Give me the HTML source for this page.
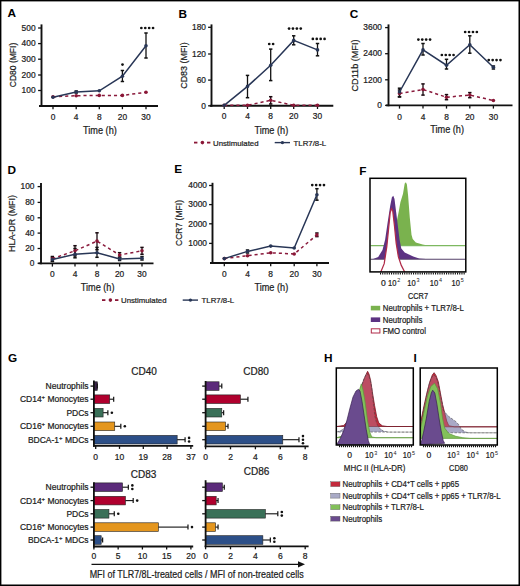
<!DOCTYPE html><html><head><meta charset="utf-8"><style>html,body{margin:0;padding:0;background:#fff;overflow:hidden}#wrap{position:relative;width:520px;height:586px;overflow:hidden;background:#fff}svg{display:block;position:absolute;left:0;top:0}text{font-family:"Liberation Sans",sans-serif}</style></head><body><div id="wrap">
<svg id="fig" width="520" height="586" viewBox="0 0 520 586">
<rect x="0" y="0" width="520" height="586" fill="#fff"/>
<text x="7.6" y="16.6" font-size="11.8" text-anchor="start" font-weight="bold" fill="#000"  >A</text>
<line x1="41.5" y1="24.4" x2="41.5" y2="106.9" stroke="#111" stroke-width="1.9" />
<line x1="39" y1="106" x2="158" y2="106" stroke="#111" stroke-width="1.9" />
<line x1="38.1" y1="90.5" x2="41.5" y2="90.5" stroke="#111" stroke-width="1.3" />
<text x="35.6" y="93.25" font-size="8.4" text-anchor="end" font-weight="normal" fill="#1c1c1c" stroke="#1c1c1c" stroke-width="0.22" >100</text>
<line x1="38.1" y1="75" x2="41.5" y2="75" stroke="#111" stroke-width="1.3" />
<text x="35.6" y="77.75" font-size="8.4" text-anchor="end" font-weight="normal" fill="#1c1c1c" stroke="#1c1c1c" stroke-width="0.22" >200</text>
<line x1="38.1" y1="59.2" x2="41.5" y2="59.2" stroke="#111" stroke-width="1.3" />
<text x="35.6" y="61.95" font-size="8.4" text-anchor="end" font-weight="normal" fill="#1c1c1c" stroke="#1c1c1c" stroke-width="0.22" >300</text>
<line x1="38.1" y1="43.6" x2="41.5" y2="43.6" stroke="#111" stroke-width="1.3" />
<text x="35.6" y="46.35" font-size="8.4" text-anchor="end" font-weight="normal" fill="#1c1c1c" stroke="#1c1c1c" stroke-width="0.22" >400</text>
<line x1="38.1" y1="28" x2="41.5" y2="28" stroke="#111" stroke-width="1.3" />
<text x="35.6" y="30.75" font-size="8.4" text-anchor="end" font-weight="normal" fill="#1c1c1c" stroke="#1c1c1c" stroke-width="0.22" >500</text>
<line x1="53" y1="106" x2="53" y2="109.2" stroke="#111" stroke-width="1.3" />
<text x="53" y="120.2" font-size="8.4" text-anchor="middle" font-weight="normal" fill="#1c1c1c" stroke="#1c1c1c" stroke-width="0.22" >0</text>
<line x1="76.2" y1="106" x2="76.2" y2="109.2" stroke="#111" stroke-width="1.3" />
<text x="76.2" y="120.2" font-size="8.4" text-anchor="middle" font-weight="normal" fill="#1c1c1c" stroke="#1c1c1c" stroke-width="0.22" >4</text>
<line x1="99.3" y1="106" x2="99.3" y2="109.2" stroke="#111" stroke-width="1.3" />
<text x="99.3" y="120.2" font-size="8.4" text-anchor="middle" font-weight="normal" fill="#1c1c1c" stroke="#1c1c1c" stroke-width="0.22" >8</text>
<line x1="122.4" y1="106" x2="122.4" y2="109.2" stroke="#111" stroke-width="1.3" />
<text x="122.4" y="120.2" font-size="8.4" text-anchor="middle" font-weight="normal" fill="#1c1c1c" stroke="#1c1c1c" stroke-width="0.22" >20</text>
<line x1="146" y1="106" x2="146" y2="109.2" stroke="#111" stroke-width="1.3" />
<text x="146" y="120.2" font-size="8.4" text-anchor="middle" font-weight="normal" fill="#1c1c1c" stroke="#1c1c1c" stroke-width="0.22" >30</text>
<text x="0" y="0" transform="translate(99.89999999999999,134.0) scale(0.9,1)" font-size="10.2" text-anchor="middle" font-weight="normal" fill="#1c1c1c" stroke="#1c1c1c" stroke-width="0.22" >Time (h)</text>
<text x="0" y="0" transform="translate(16.4,65) rotate(-90) scale(0.89,1)" font-size="9.6" text-anchor="middle" font-weight="normal" fill="#1c1c1c" stroke="#1c1c1c" stroke-width="0.22" >CD80 (MFI)</text>
<line x1="76.2" y1="91" x2="76.2" y2="93" stroke="#111" stroke-width="1.3" />
<line x1="74.5" y1="91" x2="77.9" y2="91" stroke="#111" stroke-width="1.5" />
<line x1="74.5" y1="93" x2="77.9" y2="93" stroke="#111" stroke-width="1.5" />
<line x1="122.4" y1="70.5" x2="122.4" y2="81.5" stroke="#111" stroke-width="1.3" />
<line x1="120.7" y1="70.5" x2="124.10000000000001" y2="70.5" stroke="#111" stroke-width="1.5" />
<line x1="120.7" y1="81.5" x2="124.10000000000001" y2="81.5" stroke="#111" stroke-width="1.5" />
<line x1="146" y1="33" x2="146" y2="58" stroke="#111" stroke-width="1.3" />
<line x1="144.3" y1="33" x2="147.7" y2="33" stroke="#111" stroke-width="1.5" />
<line x1="144.3" y1="58" x2="147.7" y2="58" stroke="#111" stroke-width="1.5" />
<polyline points="53,96.8 76.2,95.7 99.3,95.4 122.4,95.4 146,92.3" fill="none" stroke="#8a1a3c" stroke-width="1.5" stroke-dasharray="3.1,3.0"/>
<polyline points="53,97.3 76.2,92 99.3,90.8 122.4,76.2 146,45.8" fill="none" stroke="#283656" stroke-width="1.5"/>
<circle cx="53" cy="96.8" r="1.8" fill="#8a1636"/>
<circle cx="76.2" cy="95.7" r="1.8" fill="#8a1636"/>
<circle cx="99.3" cy="95.4" r="1.8" fill="#8a1636"/>
<circle cx="122.4" cy="95.4" r="1.8" fill="#8a1636"/>
<circle cx="146" cy="92.3" r="1.8" fill="#8a1636"/>
<circle cx="53" cy="97.3" r="1.8" fill="#283656"/>
<circle cx="76.2" cy="92" r="1.8" fill="#283656"/>
<circle cx="99.3" cy="90.8" r="1.8" fill="#283656"/>
<circle cx="122.4" cy="76.2" r="1.8" fill="#283656"/>
<circle cx="146" cy="45.8" r="1.8" fill="#283656"/>
<circle cx="122.50" cy="64.6" r="1.35" fill="#111"/>
<circle cx="141.36" cy="28" r="1.35" fill="#111"/>
<circle cx="145.26" cy="28" r="1.35" fill="#111"/>
<circle cx="149.16" cy="28" r="1.35" fill="#111"/>
<circle cx="153.06" cy="28" r="1.35" fill="#111"/>
<text x="178.4" y="17.7" font-size="11.8" text-anchor="start" font-weight="bold" fill="#000"  >B</text>
<line x1="211.5" y1="24.4" x2="211.5" y2="106.7" stroke="#111" stroke-width="1.9" />
<line x1="209.8" y1="105.8" x2="333.3" y2="105.8" stroke="#111" stroke-width="1.9" />
<line x1="208.1" y1="105.8" x2="211.5" y2="105.8" stroke="#111" stroke-width="1.3" />
<text x="206" y="108.55" font-size="8.4" text-anchor="end" font-weight="normal" fill="#1c1c1c" stroke="#1c1c1c" stroke-width="0.22" >0</text>
<line x1="208.1" y1="80.1" x2="211.5" y2="80.1" stroke="#111" stroke-width="1.3" />
<text x="206" y="82.85" font-size="8.4" text-anchor="end" font-weight="normal" fill="#1c1c1c" stroke="#1c1c1c" stroke-width="0.22" >60</text>
<line x1="208.1" y1="54" x2="211.5" y2="54" stroke="#111" stroke-width="1.3" />
<text x="206" y="56.75" font-size="8.4" text-anchor="end" font-weight="normal" fill="#1c1c1c" stroke="#1c1c1c" stroke-width="0.22" >120</text>
<line x1="208.1" y1="27.3" x2="211.5" y2="27.3" stroke="#111" stroke-width="1.3" />
<text x="206" y="30.05" font-size="8.4" text-anchor="end" font-weight="normal" fill="#1c1c1c" stroke="#1c1c1c" stroke-width="0.22" >180</text>
<line x1="224.2" y1="105.8" x2="224.2" y2="109.0" stroke="#111" stroke-width="1.3" />
<text x="224.2" y="119.39999999999999" font-size="8.4" text-anchor="middle" font-weight="normal" fill="#1c1c1c" stroke="#1c1c1c" stroke-width="0.22" >0</text>
<line x1="247.5" y1="105.8" x2="247.5" y2="109.0" stroke="#111" stroke-width="1.3" />
<text x="247.5" y="119.39999999999999" font-size="8.4" text-anchor="middle" font-weight="normal" fill="#1c1c1c" stroke="#1c1c1c" stroke-width="0.22" >4</text>
<line x1="270.7" y1="105.8" x2="270.7" y2="109.0" stroke="#111" stroke-width="1.3" />
<text x="270.7" y="119.39999999999999" font-size="8.4" text-anchor="middle" font-weight="normal" fill="#1c1c1c" stroke="#1c1c1c" stroke-width="0.22" >8</text>
<line x1="293.7" y1="105.8" x2="293.7" y2="109.0" stroke="#111" stroke-width="1.3" />
<text x="293.7" y="119.39999999999999" font-size="8.4" text-anchor="middle" font-weight="normal" fill="#1c1c1c" stroke="#1c1c1c" stroke-width="0.22" >20</text>
<line x1="317.5" y1="105.8" x2="317.5" y2="109.0" stroke="#111" stroke-width="1.3" />
<text x="317.5" y="119.39999999999999" font-size="8.4" text-anchor="middle" font-weight="normal" fill="#1c1c1c" stroke="#1c1c1c" stroke-width="0.22" >30</text>
<text x="0" y="0" transform="translate(271.3,133.8) scale(0.9,1)" font-size="10.2" text-anchor="middle" font-weight="normal" fill="#1c1c1c" stroke="#1c1c1c" stroke-width="0.22" >Time (h)</text>
<text x="0" y="0" transform="translate(187.4,65.5) rotate(-90) scale(0.93,1)" font-size="9.6" text-anchor="middle" font-weight="normal" fill="#1c1c1c" stroke="#1c1c1c" stroke-width="0.22" >CD83 (MFI)</text>
<line x1="270.7" y1="96.7" x2="270.7" y2="104" stroke="#1a0a10" stroke-width="1.3" />
<line x1="269.0" y1="96.7" x2="272.4" y2="96.7" stroke="#1a0a10" stroke-width="1.5" />
<line x1="269.0" y1="104" x2="272.4" y2="104" stroke="#1a0a10" stroke-width="1.5" />
<line x1="247.5" y1="75.4" x2="247.5" y2="97.7" stroke="#111" stroke-width="1.3" />
<line x1="245.8" y1="75.4" x2="249.2" y2="75.4" stroke="#111" stroke-width="1.5" />
<line x1="245.8" y1="97.7" x2="249.2" y2="97.7" stroke="#111" stroke-width="1.5" />
<line x1="270.7" y1="49.1" x2="270.7" y2="80.6" stroke="#111" stroke-width="1.3" />
<line x1="269.0" y1="49.1" x2="272.4" y2="49.1" stroke="#111" stroke-width="1.5" />
<line x1="269.0" y1="80.6" x2="272.4" y2="80.6" stroke="#111" stroke-width="1.5" />
<line x1="293.7" y1="35.8" x2="293.7" y2="44.8" stroke="#111" stroke-width="1.3" />
<line x1="292.0" y1="35.8" x2="295.4" y2="35.8" stroke="#111" stroke-width="1.5" />
<line x1="292.0" y1="44.8" x2="295.4" y2="44.8" stroke="#111" stroke-width="1.5" />
<line x1="317.5" y1="43.5" x2="317.5" y2="55.8" stroke="#111" stroke-width="1.3" />
<line x1="315.8" y1="43.5" x2="319.2" y2="43.5" stroke="#111" stroke-width="1.5" />
<line x1="315.8" y1="55.8" x2="319.2" y2="55.8" stroke="#111" stroke-width="1.5" />
<polyline points="224.2,105.3 247.5,105.3 270.7,100.3 293.7,105.3 317.5,105.3" fill="none" stroke="#8a1a3c" stroke-width="1.5" stroke-dasharray="3.1,3.0"/>
<polyline points="224.2,105.3 247.5,86.4 270.7,65.2 293.7,40.4 317.5,49.9" fill="none" stroke="#283656" stroke-width="1.5"/>
<circle cx="224.2" cy="105.3" r="1.8" fill="#8a1636"/>
<circle cx="247.5" cy="105.3" r="1.8" fill="#8a1636"/>
<circle cx="270.7" cy="100.3" r="1.8" fill="#8a1636"/>
<circle cx="293.7" cy="105.3" r="1.8" fill="#8a1636"/>
<circle cx="317.5" cy="105.3" r="1.8" fill="#8a1636"/>
<circle cx="224.2" cy="105.3" r="1.8" fill="#283656"/>
<circle cx="247.5" cy="86.4" r="1.8" fill="#283656"/>
<circle cx="270.7" cy="65.2" r="1.8" fill="#283656"/>
<circle cx="293.7" cy="40.4" r="1.8" fill="#283656"/>
<circle cx="317.5" cy="49.9" r="1.8" fill="#283656"/>
<circle cx="269.22" cy="44" r="1.35" fill="#111"/>
<circle cx="273.12" cy="44" r="1.35" fill="#111"/>
<circle cx="289.06" cy="28.6" r="1.35" fill="#111"/>
<circle cx="292.96" cy="28.6" r="1.35" fill="#111"/>
<circle cx="296.86" cy="28.6" r="1.35" fill="#111"/>
<circle cx="300.76" cy="28.6" r="1.35" fill="#111"/>
<circle cx="312.86" cy="38.9" r="1.35" fill="#111"/>
<circle cx="316.76" cy="38.9" r="1.35" fill="#111"/>
<circle cx="320.66" cy="38.9" r="1.35" fill="#111"/>
<circle cx="324.56" cy="38.9" r="1.35" fill="#111"/>
<text x="349.7" y="18.1" font-size="11.8" text-anchor="start" font-weight="bold" fill="#000"  >C</text>
<line x1="388.5" y1="24.4" x2="388.5" y2="106.30000000000001" stroke="#111" stroke-width="1.9" />
<line x1="386" y1="105.4" x2="512.5" y2="105.4" stroke="#111" stroke-width="1.9" />
<line x1="385.1" y1="105.4" x2="388.5" y2="105.4" stroke="#111" stroke-width="1.3" />
<text x="382" y="108.15" font-size="8.4" text-anchor="end" font-weight="normal" fill="#1c1c1c" stroke="#1c1c1c" stroke-width="0.22" >0</text>
<line x1="385.1" y1="79.8" x2="388.5" y2="79.8" stroke="#111" stroke-width="1.3" />
<text x="382" y="82.55" font-size="8.4" text-anchor="end" font-weight="normal" fill="#1c1c1c" stroke="#1c1c1c" stroke-width="0.22" >1200</text>
<line x1="385.1" y1="53.7" x2="388.5" y2="53.7" stroke="#111" stroke-width="1.3" />
<text x="382" y="56.45" font-size="8.4" text-anchor="end" font-weight="normal" fill="#1c1c1c" stroke="#1c1c1c" stroke-width="0.22" >2400</text>
<line x1="385.1" y1="27.6" x2="388.5" y2="27.6" stroke="#111" stroke-width="1.3" />
<text x="382" y="30.35" font-size="8.4" text-anchor="end" font-weight="normal" fill="#1c1c1c" stroke="#1c1c1c" stroke-width="0.22" >3600</text>
<line x1="399.5" y1="105.4" x2="399.5" y2="108.60000000000001" stroke="#111" stroke-width="1.3" />
<text x="399.5" y="119.60000000000001" font-size="8.4" text-anchor="middle" font-weight="normal" fill="#1c1c1c" stroke="#1c1c1c" stroke-width="0.22" >0</text>
<line x1="423" y1="105.4" x2="423" y2="108.60000000000001" stroke="#111" stroke-width="1.3" />
<text x="423" y="119.60000000000001" font-size="8.4" text-anchor="middle" font-weight="normal" fill="#1c1c1c" stroke="#1c1c1c" stroke-width="0.22" >4</text>
<line x1="446.5" y1="105.4" x2="446.5" y2="108.60000000000001" stroke="#111" stroke-width="1.3" />
<text x="446.5" y="119.60000000000001" font-size="8.4" text-anchor="middle" font-weight="normal" fill="#1c1c1c" stroke="#1c1c1c" stroke-width="0.22" >8</text>
<line x1="469.8" y1="105.4" x2="469.8" y2="108.60000000000001" stroke="#111" stroke-width="1.3" />
<text x="469.8" y="119.60000000000001" font-size="8.4" text-anchor="middle" font-weight="normal" fill="#1c1c1c" stroke="#1c1c1c" stroke-width="0.22" >20</text>
<line x1="493.4" y1="105.4" x2="493.4" y2="108.60000000000001" stroke="#111" stroke-width="1.3" />
<text x="493.4" y="119.60000000000001" font-size="8.4" text-anchor="middle" font-weight="normal" fill="#1c1c1c" stroke="#1c1c1c" stroke-width="0.22" >30</text>
<text x="0" y="0" transform="translate(447.1,133.4) scale(0.9,1)" font-size="10.2" text-anchor="middle" font-weight="normal" fill="#1c1c1c" stroke="#1c1c1c" stroke-width="0.22" >Time (h)</text>
<text x="0" y="0" transform="translate(357.9,65.5) rotate(-90) scale(0.95,1)" font-size="9.6" text-anchor="middle" font-weight="normal" fill="#1c1c1c" stroke="#1c1c1c" stroke-width="0.22" >CD11b (MFI)</text>
<line x1="399.5" y1="90" x2="399.5" y2="97" stroke="#1a0a10" stroke-width="1.3" />
<line x1="397.8" y1="90" x2="401.2" y2="90" stroke="#1a0a10" stroke-width="1.5" />
<line x1="397.8" y1="97" x2="401.2" y2="97" stroke="#1a0a10" stroke-width="1.5" />
<line x1="423" y1="83.9" x2="423" y2="95.1" stroke="#1a0a10" stroke-width="1.3" />
<line x1="421.3" y1="83.9" x2="424.7" y2="83.9" stroke="#1a0a10" stroke-width="1.5" />
<line x1="421.3" y1="95.1" x2="424.7" y2="95.1" stroke="#1a0a10" stroke-width="1.5" />
<line x1="446.5" y1="94.6" x2="446.5" y2="99.7" stroke="#1a0a10" stroke-width="1.3" />
<line x1="444.8" y1="94.6" x2="448.2" y2="94.6" stroke="#1a0a10" stroke-width="1.5" />
<line x1="444.8" y1="99.7" x2="448.2" y2="99.7" stroke="#1a0a10" stroke-width="1.5" />
<line x1="469.8" y1="92.6" x2="469.8" y2="97.7" stroke="#1a0a10" stroke-width="1.3" />
<line x1="468.1" y1="92.6" x2="471.5" y2="92.6" stroke="#1a0a10" stroke-width="1.5" />
<line x1="468.1" y1="97.7" x2="471.5" y2="97.7" stroke="#1a0a10" stroke-width="1.5" />
<line x1="399.5" y1="88.2" x2="399.5" y2="96.7" stroke="#111" stroke-width="1.3" />
<line x1="397.8" y1="88.2" x2="401.2" y2="88.2" stroke="#111" stroke-width="1.5" />
<line x1="397.8" y1="96.7" x2="401.2" y2="96.7" stroke="#111" stroke-width="1.5" />
<line x1="423" y1="43.5" x2="423" y2="55" stroke="#111" stroke-width="1.3" />
<line x1="421.3" y1="43.5" x2="424.7" y2="43.5" stroke="#111" stroke-width="1.5" />
<line x1="421.3" y1="55" x2="424.7" y2="55" stroke="#111" stroke-width="1.5" />
<line x1="446.5" y1="59.3" x2="446.5" y2="69" stroke="#111" stroke-width="1.3" />
<line x1="444.8" y1="59.3" x2="448.2" y2="59.3" stroke="#111" stroke-width="1.5" />
<line x1="444.8" y1="69" x2="448.2" y2="69" stroke="#111" stroke-width="1.5" />
<line x1="469.8" y1="35.8" x2="469.8" y2="53.2" stroke="#111" stroke-width="1.3" />
<line x1="468.1" y1="35.8" x2="471.5" y2="35.8" stroke="#111" stroke-width="1.5" />
<line x1="468.1" y1="53.2" x2="471.5" y2="53.2" stroke="#111" stroke-width="1.5" />
<line x1="493.4" y1="66" x2="493.4" y2="69" stroke="#111" stroke-width="1.3" />
<line x1="491.7" y1="66" x2="495.09999999999997" y2="66" stroke="#111" stroke-width="1.5" />
<line x1="491.7" y1="69" x2="495.09999999999997" y2="69" stroke="#111" stroke-width="1.5" />
<polyline points="399.5,93.4 423,89.5 446.5,97.2 469.8,95.1 493.4,100.5" fill="none" stroke="#8a1a3c" stroke-width="1.5" stroke-dasharray="3.1,3.0"/>
<polyline points="399.5,92 423,49.9 446.5,65.2 469.8,44.8 493.4,67.3" fill="none" stroke="#283656" stroke-width="1.5"/>
<circle cx="399.5" cy="93.4" r="1.8" fill="#8a1636"/>
<circle cx="423" cy="89.5" r="1.8" fill="#8a1636"/>
<circle cx="446.5" cy="97.2" r="1.8" fill="#8a1636"/>
<circle cx="469.8" cy="95.1" r="1.8" fill="#8a1636"/>
<circle cx="493.4" cy="100.5" r="1.8" fill="#8a1636"/>
<circle cx="399.5" cy="92" r="1.8" fill="#283656"/>
<circle cx="423" cy="49.9" r="1.8" fill="#283656"/>
<circle cx="446.5" cy="65.2" r="1.8" fill="#283656"/>
<circle cx="469.8" cy="44.8" r="1.8" fill="#283656"/>
<circle cx="493.4" cy="67.3" r="1.8" fill="#283656"/>
<circle cx="418.36" cy="39.6" r="1.35" fill="#111"/>
<circle cx="422.26" cy="39.6" r="1.35" fill="#111"/>
<circle cx="426.16" cy="39.6" r="1.35" fill="#111"/>
<circle cx="430.06" cy="39.6" r="1.35" fill="#111"/>
<circle cx="441.86" cy="55" r="1.35" fill="#111"/>
<circle cx="445.76" cy="55" r="1.35" fill="#111"/>
<circle cx="449.66" cy="55" r="1.35" fill="#111"/>
<circle cx="453.56" cy="55" r="1.35" fill="#111"/>
<circle cx="465.16" cy="32" r="1.35" fill="#111"/>
<circle cx="469.06" cy="32" r="1.35" fill="#111"/>
<circle cx="472.96" cy="32" r="1.35" fill="#111"/>
<circle cx="476.86" cy="32" r="1.35" fill="#111"/>
<circle cx="488.76" cy="60.1" r="1.35" fill="#111"/>
<circle cx="492.66" cy="60.1" r="1.35" fill="#111"/>
<circle cx="496.56" cy="60.1" r="1.35" fill="#111"/>
<circle cx="500.46" cy="60.1" r="1.35" fill="#111"/>
<line x1="194" y1="142.6" x2="197.4" y2="142.6" stroke="#8a1636" stroke-width="1.8" />
<circle cx="202.4" cy="142.6" r="1.8" fill="#8a1636"/>
<line x1="207" y1="142.6" x2="210.4" y2="142.6" stroke="#8a1636" stroke-width="1.8" />
<text x="213" y="145.5" font-size="7.8" text-anchor="start" font-weight="normal" fill="#1c1c1c" stroke="#1c1c1c" stroke-width="0.22" >Unstimulated</text>
<line x1="274.7" y1="142.6" x2="290" y2="142.6" stroke="#283656" stroke-width="1.4" />
<circle cx="282.4" cy="142.6" r="1.7" fill="#283656"/>
<text x="293.6" y="145.5" font-size="7.8" text-anchor="start" font-weight="normal" fill="#1c1c1c" stroke="#1c1c1c" stroke-width="0.22" >TLR7/8-L</text>
<text x="7.5" y="174.2" font-size="11.8" text-anchor="start" font-weight="bold" fill="#000"  >D</text>
<line x1="41" y1="183" x2="41" y2="264.29999999999995" stroke="#111" stroke-width="1.9" />
<line x1="38.5" y1="263.4" x2="153.5" y2="263.4" stroke="#111" stroke-width="1.9" />
<line x1="37.6" y1="263.3" x2="41" y2="263.3" stroke="#111" stroke-width="1.3" />
<text x="34.5" y="266.05" font-size="8.4" text-anchor="end" font-weight="normal" fill="#1c1c1c" stroke="#1c1c1c" stroke-width="0.22" >0</text>
<line x1="37.6" y1="248.5" x2="41" y2="248.5" stroke="#111" stroke-width="1.3" />
<text x="34.5" y="251.25" font-size="8.4" text-anchor="end" font-weight="normal" fill="#1c1c1c" stroke="#1c1c1c" stroke-width="0.22" >20</text>
<line x1="37.6" y1="233.1" x2="41" y2="233.1" stroke="#111" stroke-width="1.3" />
<text x="34.5" y="235.85" font-size="8.4" text-anchor="end" font-weight="normal" fill="#1c1c1c" stroke="#1c1c1c" stroke-width="0.22" >40</text>
<line x1="37.6" y1="217.8" x2="41" y2="217.8" stroke="#111" stroke-width="1.3" />
<text x="34.5" y="220.55" font-size="8.4" text-anchor="end" font-weight="normal" fill="#1c1c1c" stroke="#1c1c1c" stroke-width="0.22" >60</text>
<line x1="37.6" y1="202.4" x2="41" y2="202.4" stroke="#111" stroke-width="1.3" />
<text x="34.5" y="205.15" font-size="8.4" text-anchor="end" font-weight="normal" fill="#1c1c1c" stroke="#1c1c1c" stroke-width="0.22" >80</text>
<line x1="37.6" y1="186.6" x2="41" y2="186.6" stroke="#111" stroke-width="1.3" />
<text x="34.5" y="189.35" font-size="8.4" text-anchor="end" font-weight="normal" fill="#1c1c1c" stroke="#1c1c1c" stroke-width="0.22" >100</text>
<line x1="52.4" y1="263.4" x2="52.4" y2="266.59999999999997" stroke="#111" stroke-width="1.3" />
<text x="52.4" y="276.79999999999995" font-size="8.4" text-anchor="middle" font-weight="normal" fill="#1c1c1c" stroke="#1c1c1c" stroke-width="0.22" >0</text>
<line x1="75" y1="263.4" x2="75" y2="266.59999999999997" stroke="#111" stroke-width="1.3" />
<text x="75" y="276.79999999999995" font-size="8.4" text-anchor="middle" font-weight="normal" fill="#1c1c1c" stroke="#1c1c1c" stroke-width="0.22" >4</text>
<line x1="97" y1="263.4" x2="97" y2="266.59999999999997" stroke="#111" stroke-width="1.3" />
<text x="97" y="276.79999999999995" font-size="8.4" text-anchor="middle" font-weight="normal" fill="#1c1c1c" stroke="#1c1c1c" stroke-width="0.22" >8</text>
<line x1="119.6" y1="263.4" x2="119.6" y2="266.59999999999997" stroke="#111" stroke-width="1.3" />
<text x="119.6" y="276.79999999999995" font-size="8.4" text-anchor="middle" font-weight="normal" fill="#1c1c1c" stroke="#1c1c1c" stroke-width="0.22" >20</text>
<line x1="142" y1="263.4" x2="142" y2="266.59999999999997" stroke="#111" stroke-width="1.3" />
<text x="142" y="276.79999999999995" font-size="8.4" text-anchor="middle" font-weight="normal" fill="#1c1c1c" stroke="#1c1c1c" stroke-width="0.22" >30</text>
<text x="0" y="0" transform="translate(97.6,291.4) scale(0.9,1)" font-size="10.2" text-anchor="middle" font-weight="normal" fill="#1c1c1c" stroke="#1c1c1c" stroke-width="0.22" >Time (h)</text>
<text x="0" y="0" transform="translate(15.3,223.5) rotate(-90) scale(0.93,1)" font-size="9.6" text-anchor="middle" font-weight="normal" fill="#1c1c1c" stroke="#1c1c1c" stroke-width="0.22" >HLA-DR (MFI)</text>
<line x1="52.4" y1="256.5" x2="52.4" y2="261" stroke="#1a0a10" stroke-width="1.3" />
<line x1="50.699999999999996" y1="256.5" x2="54.1" y2="256.5" stroke="#1a0a10" stroke-width="1.5" />
<line x1="50.699999999999996" y1="261" x2="54.1" y2="261" stroke="#1a0a10" stroke-width="1.5" />
<line x1="75" y1="245.7" x2="75" y2="255.9" stroke="#1a0a10" stroke-width="1.3" />
<line x1="73.3" y1="245.7" x2="76.7" y2="245.7" stroke="#1a0a10" stroke-width="1.5" />
<line x1="73.3" y1="255.9" x2="76.7" y2="255.9" stroke="#1a0a10" stroke-width="1.5" />
<line x1="97" y1="232.8" x2="97" y2="249.7" stroke="#1a0a10" stroke-width="1.3" />
<line x1="95.3" y1="232.8" x2="98.7" y2="232.8" stroke="#1a0a10" stroke-width="1.5" />
<line x1="95.3" y1="249.7" x2="98.7" y2="249.7" stroke="#1a0a10" stroke-width="1.5" />
<line x1="119.6" y1="252.7" x2="119.6" y2="257.3" stroke="#1a0a10" stroke-width="1.3" />
<line x1="117.89999999999999" y1="252.7" x2="121.3" y2="252.7" stroke="#1a0a10" stroke-width="1.5" />
<line x1="117.89999999999999" y1="257.3" x2="121.3" y2="257.3" stroke="#1a0a10" stroke-width="1.5" />
<line x1="142" y1="247.4" x2="142" y2="254.3" stroke="#1a0a10" stroke-width="1.3" />
<line x1="140.3" y1="247.4" x2="143.7" y2="247.4" stroke="#1a0a10" stroke-width="1.5" />
<line x1="140.3" y1="254.3" x2="143.7" y2="254.3" stroke="#1a0a10" stroke-width="1.5" />
<line x1="52.4" y1="257.5" x2="52.4" y2="261.5" stroke="#111" stroke-width="1.3" />
<line x1="50.699999999999996" y1="257.5" x2="54.1" y2="257.5" stroke="#111" stroke-width="1.5" />
<line x1="50.699999999999996" y1="261.5" x2="54.1" y2="261.5" stroke="#111" stroke-width="1.5" />
<line x1="75" y1="248.5" x2="75" y2="257.8" stroke="#111" stroke-width="1.3" />
<line x1="73.3" y1="248.5" x2="76.7" y2="248.5" stroke="#111" stroke-width="1.5" />
<line x1="73.3" y1="257.8" x2="76.7" y2="257.8" stroke="#111" stroke-width="1.5" />
<line x1="97" y1="247.4" x2="97" y2="257.3" stroke="#111" stroke-width="1.3" />
<line x1="95.3" y1="247.4" x2="98.7" y2="247.4" stroke="#111" stroke-width="1.5" />
<line x1="95.3" y1="257.3" x2="98.7" y2="257.3" stroke="#111" stroke-width="1.5" />
<line x1="119.6" y1="257.3" x2="119.6" y2="260.5" stroke="#111" stroke-width="1.3" />
<line x1="117.89999999999999" y1="257.3" x2="121.3" y2="257.3" stroke="#111" stroke-width="1.5" />
<line x1="117.89999999999999" y1="260.5" x2="121.3" y2="260.5" stroke="#111" stroke-width="1.5" />
<line x1="142" y1="256.6" x2="142" y2="260" stroke="#111" stroke-width="1.3" />
<line x1="140.3" y1="256.6" x2="143.7" y2="256.6" stroke="#111" stroke-width="1.5" />
<line x1="140.3" y1="260" x2="143.7" y2="260" stroke="#111" stroke-width="1.5" />
<polyline points="52.4,258.7 75,250.8 97,241.1 119.6,255 142,250.8" fill="none" stroke="#8a1a3c" stroke-width="1.5" stroke-dasharray="3.1,3.0"/>
<polyline points="52.4,259.5 75,254.3 97,252.7 119.6,258.9 142,258.2" fill="none" stroke="#283656" stroke-width="1.5"/>
<circle cx="52.4" cy="258.7" r="1.8" fill="#8a1636"/>
<circle cx="75" cy="250.8" r="1.8" fill="#8a1636"/>
<circle cx="97" cy="241.1" r="1.8" fill="#8a1636"/>
<circle cx="119.6" cy="255" r="1.8" fill="#8a1636"/>
<circle cx="142" cy="250.8" r="1.8" fill="#8a1636"/>
<circle cx="52.4" cy="259.5" r="1.8" fill="#283656"/>
<circle cx="75" cy="254.3" r="1.8" fill="#283656"/>
<circle cx="97" cy="252.7" r="1.8" fill="#283656"/>
<circle cx="119.6" cy="258.9" r="1.8" fill="#283656"/>
<circle cx="142" cy="258.2" r="1.8" fill="#283656"/>
<text x="174.2" y="173.4" font-size="11.8" text-anchor="start" font-weight="bold" fill="#000"  >E</text>
<line x1="212.5" y1="182.8" x2="212.5" y2="263.9" stroke="#111" stroke-width="1.9" />
<line x1="210" y1="263" x2="329" y2="263" stroke="#111" stroke-width="1.9" />
<line x1="209.1" y1="243.4" x2="212.5" y2="243.4" stroke="#111" stroke-width="1.3" />
<text x="207" y="246.15" font-size="8.4" text-anchor="end" font-weight="normal" fill="#1c1c1c" stroke="#1c1c1c" stroke-width="0.22" >1000</text>
<line x1="209.1" y1="223.8" x2="212.5" y2="223.8" stroke="#111" stroke-width="1.3" />
<text x="207" y="226.55" font-size="8.4" text-anchor="end" font-weight="normal" fill="#1c1c1c" stroke="#1c1c1c" stroke-width="0.22" >2000</text>
<line x1="209.1" y1="204.6" x2="212.5" y2="204.6" stroke="#111" stroke-width="1.3" />
<text x="207" y="207.35" font-size="8.4" text-anchor="end" font-weight="normal" fill="#1c1c1c" stroke="#1c1c1c" stroke-width="0.22" >3000</text>
<line x1="209.1" y1="185.5" x2="212.5" y2="185.5" stroke="#111" stroke-width="1.3" />
<text x="207" y="188.25" font-size="8.4" text-anchor="end" font-weight="normal" fill="#1c1c1c" stroke="#1c1c1c" stroke-width="0.22" >4000</text>
<line x1="224.3" y1="263" x2="224.3" y2="266.2" stroke="#111" stroke-width="1.3" />
<text x="224.3" y="277.2" font-size="8.4" text-anchor="middle" font-weight="normal" fill="#1c1c1c" stroke="#1c1c1c" stroke-width="0.22" >0</text>
<line x1="247.5" y1="263" x2="247.5" y2="266.2" stroke="#111" stroke-width="1.3" />
<text x="247.5" y="277.2" font-size="8.4" text-anchor="middle" font-weight="normal" fill="#1c1c1c" stroke="#1c1c1c" stroke-width="0.22" >4</text>
<line x1="270.7" y1="263" x2="270.7" y2="266.2" stroke="#111" stroke-width="1.3" />
<text x="270.7" y="277.2" font-size="8.4" text-anchor="middle" font-weight="normal" fill="#1c1c1c" stroke="#1c1c1c" stroke-width="0.22" >8</text>
<line x1="294.2" y1="263" x2="294.2" y2="266.2" stroke="#111" stroke-width="1.3" />
<text x="294.2" y="277.2" font-size="8.4" text-anchor="middle" font-weight="normal" fill="#1c1c1c" stroke="#1c1c1c" stroke-width="0.22" >20</text>
<line x1="316.9" y1="263" x2="316.9" y2="266.2" stroke="#111" stroke-width="1.3" />
<text x="316.9" y="277.2" font-size="8.4" text-anchor="middle" font-weight="normal" fill="#1c1c1c" stroke="#1c1c1c" stroke-width="0.22" >30</text>
<text x="0" y="0" transform="translate(271.3,291.0) scale(0.9,1)" font-size="10.2" text-anchor="middle" font-weight="normal" fill="#1c1c1c" stroke="#1c1c1c" stroke-width="0.22" >Time (h)</text>
<text x="0" y="0" transform="translate(182.4,223) rotate(-90) scale(0.89,1)" font-size="9.6" text-anchor="middle" font-weight="normal" fill="#1c1c1c" stroke="#1c1c1c" stroke-width="0.22" >CCR7 (MFI)</text>
<line x1="316.9" y1="233" x2="316.9" y2="236.6" stroke="#1a0a10" stroke-width="1.3" />
<line x1="315.2" y1="233" x2="318.59999999999997" y2="233" stroke="#1a0a10" stroke-width="1.5" />
<line x1="315.2" y1="236.6" x2="318.59999999999997" y2="236.6" stroke="#1a0a10" stroke-width="1.5" />
<line x1="247.5" y1="250" x2="247.5" y2="253" stroke="#111" stroke-width="1.3" />
<line x1="245.8" y1="250" x2="249.2" y2="250" stroke="#111" stroke-width="1.5" />
<line x1="245.8" y1="253" x2="249.2" y2="253" stroke="#111" stroke-width="1.5" />
<line x1="316.9" y1="188.7" x2="316.9" y2="200.2" stroke="#111" stroke-width="1.3" />
<line x1="315.2" y1="188.7" x2="318.59999999999997" y2="188.7" stroke="#111" stroke-width="1.5" />
<line x1="315.2" y1="200.2" x2="318.59999999999997" y2="200.2" stroke="#111" stroke-width="1.5" />
<polyline points="224.3,258.6 247.5,255.7 270.7,252.8 294.2,254 316.9,234.9" fill="none" stroke="#8a1a3c" stroke-width="1.5" stroke-dasharray="3.1,3.0"/>
<polyline points="224.3,258.6 247.5,251.4 270.7,246.1 294.2,248 316.9,194.7" fill="none" stroke="#283656" stroke-width="1.5"/>
<circle cx="224.3" cy="258.6" r="1.8" fill="#8a1636"/>
<circle cx="247.5" cy="255.7" r="1.8" fill="#8a1636"/>
<circle cx="270.7" cy="252.8" r="1.8" fill="#8a1636"/>
<circle cx="294.2" cy="254" r="1.8" fill="#8a1636"/>
<circle cx="316.9" cy="234.9" r="1.8" fill="#8a1636"/>
<circle cx="224.3" cy="258.6" r="1.8" fill="#283656"/>
<circle cx="247.5" cy="251.4" r="1.8" fill="#283656"/>
<circle cx="270.7" cy="246.1" r="1.8" fill="#283656"/>
<circle cx="294.2" cy="248" r="1.8" fill="#283656"/>
<circle cx="316.9" cy="194.7" r="1.8" fill="#283656"/>
<circle cx="312.26" cy="185.1" r="1.35" fill="#111"/>
<circle cx="316.16" cy="185.1" r="1.35" fill="#111"/>
<circle cx="320.06" cy="185.1" r="1.35" fill="#111"/>
<circle cx="323.96" cy="185.1" r="1.35" fill="#111"/>
<line x1="102" y1="300.1" x2="105.4" y2="300.1" stroke="#8a1636" stroke-width="1.8" />
<circle cx="110.4" cy="300.1" r="1.8" fill="#8a1636"/>
<line x1="115" y1="300.1" x2="118.4" y2="300.1" stroke="#8a1636" stroke-width="1.8" />
<text x="121" y="303.0" font-size="7.8" text-anchor="start" font-weight="normal" fill="#1c1c1c" stroke="#1c1c1c" stroke-width="0.22" >Unstimulated</text>
<line x1="182.7" y1="300.1" x2="198" y2="300.1" stroke="#283656" stroke-width="1.4" />
<circle cx="190.4" cy="300.1" r="1.7" fill="#283656"/>
<text x="201.6" y="303.0" font-size="7.8" text-anchor="start" font-weight="normal" fill="#1c1c1c" stroke="#1c1c1c" stroke-width="0.22" >TLR7/8-L</text>
<text x="359.3" y="174.5" font-size="11.8" text-anchor="start" font-weight="bold" fill="#000"  >F</text>
<path d="M370.5,245.5 L388.0,245.5 L392.0,240.0 L396.0,225.0 L398.7,211.7 L400.4,202.3 L403.0,193.8 L404.7,183.5 L405.9,182.2 L406.9,184.4 L408.1,195.5 L409.8,217.7 L411.5,234.7 L412.7,239.0 L415.8,242.4 L422.6,244.6 L427.7,245.5 L465.0,245.5 Z" fill="#7ab24e" stroke="none" stroke-width="1" />
<line x1="370.5" y1="245.6" x2="465.5" y2="245.6" stroke="#7db860" stroke-width="1.1" />
<path d="M370.5,259.1 L373.1,259.1 L378.2,256.9 L382.5,250.1 L385.1,239.8 L387.6,222.8 L390.2,205.7 L391.9,197.2 L393.3,195.8 L394.5,198.9 L396.2,212.5 L397.9,226.2 L399.6,239.8 L401.3,248.4 L404.7,252.6 L409.0,254.4 L413.2,256.6 L419.2,258.6 L426.0,259.1 L465.0,259.1 Z" fill="#5c3282" stroke="none" stroke-width="1" />
<line x1="370.5" y1="259.2" x2="465.5" y2="259.2" stroke="#55406a" stroke-width="1.1" />
<path d="M380.8,272.0 L384.2,263.7 L386.8,246.7 L388.5,229.6 L390.2,212.5 L391.5,208.8 L392.7,210.8 L394.5,226.2 L396.2,243.3 L398.4,256.9 L401.3,265.4 L404.7,272.0" fill="#fff" stroke="#b02a48" stroke-width="1.25"/>
<rect x="370" y="178.3" width="95.8" height="93.6" fill="none" stroke="#000" stroke-width="1.5"/>
<line x1="380" y1="273.6" x2="465.5" y2="273.6" stroke="#111" stroke-width="2.0" stroke-dasharray="1.1,1.1"/>
<text x="383.3" y="285.8" font-size="8.6" text-anchor="middle" font-weight="normal" fill="#1c1c1c" stroke="#1c1c1c" stroke-width="0.22" >0</text>
<text x="0" y="0" transform="translate(392.2,285.8) scale(0.88,1)" font-size="8.6" text-anchor="middle" font-weight="normal" fill="#1c1c1c" stroke="#1c1c1c" stroke-width="0.22" >10</text>
<text x="0" y="0" transform="translate(398.7,282.2) scale(0.9,1)" font-size="6.02" text-anchor="middle" font-weight="normal" fill="#1c1c1c"  >2</text>
<text x="0" y="0" transform="translate(411.4,285.8) scale(0.88,1)" font-size="8.6" text-anchor="middle" font-weight="normal" fill="#1c1c1c" stroke="#1c1c1c" stroke-width="0.22" >10</text>
<text x="0" y="0" transform="translate(417.9,282.2) scale(0.9,1)" font-size="6.02" text-anchor="middle" font-weight="normal" fill="#1c1c1c"  >3</text>
<text x="0" y="0" transform="translate(434,285.8) scale(0.88,1)" font-size="8.6" text-anchor="middle" font-weight="normal" fill="#1c1c1c" stroke="#1c1c1c" stroke-width="0.22" >10</text>
<text x="0" y="0" transform="translate(440.5,282.2) scale(0.9,1)" font-size="6.02" text-anchor="middle" font-weight="normal" fill="#1c1c1c"  >4</text>
<text x="0" y="0" transform="translate(455.8,285.8) scale(0.88,1)" font-size="8.6" text-anchor="middle" font-weight="normal" fill="#1c1c1c" stroke="#1c1c1c" stroke-width="0.22" >10</text>
<text x="0" y="0" transform="translate(462.3,282.2) scale(0.9,1)" font-size="6.02" text-anchor="middle" font-weight="normal" fill="#1c1c1c"  >5</text>
<text x="0" y="0" transform="translate(418,299.2) scale(0.84,1)" font-size="8.8" text-anchor="middle" font-weight="normal" fill="#1c1c1c" stroke="#1c1c1c" stroke-width="0.22" >CCR7</text>
<rect x="370.8" y="305.8" width="9.4" height="4.6" fill="#7ab24e"/>
<text x="0" y="0" transform="translate(382.8,311) scale(0.89,1)" font-size="8.8" text-anchor="start" font-weight="normal" fill="#1c1c1c" stroke="#1c1c1c" stroke-width="0.22" >Neutrophils + TLR7/8-L</text>
<rect x="370.8" y="317.4" width="9.4" height="4.6" fill="#5c3282"/>
<text x="0" y="0" transform="translate(382.8,322.6) scale(0.89,1)" font-size="8.8" text-anchor="start" font-weight="normal" fill="#1c1c1c" stroke="#1c1c1c" stroke-width="0.22" >Neutrophils</text>
<rect x="371.3" y="328.8" width="8.6" height="4.2" fill="#fff" stroke="#b02a48" stroke-width="1"/>
<text x="0" y="0" transform="translate(382.8,333.6) scale(0.89,1)" font-size="8.8" text-anchor="start" font-weight="normal" fill="#1c1c1c" stroke="#1c1c1c" stroke-width="0.22" >FMO control</text>
<text x="8.0" y="362.0" font-size="11.8" text-anchor="start" font-weight="bold" fill="#000"  >G</text>
<text x="144" y="374.5" font-size="10" text-anchor="middle" font-weight="normal" fill="#1c1c1c" stroke="#1c1c1c" stroke-width="0.22" >CD40</text>
<rect x="93.9" y="381.80" width="3.39" height="8.6" fill="#3a2448" stroke="#222" stroke-width="0.6"/>
<line x1="97.28666666666668" y1="386.1" x2="97.28666666666668" y2="386.1" stroke="#111" stroke-width="1.1" />
<line x1="97.28666666666668" y1="383.6" x2="97.28666666666668" y2="388.6" stroke="#111" stroke-width="1.2" />
<line x1="90.5" y1="386.1" x2="93.9" y2="386.1" stroke="#111" stroke-width="1.3" />
<text x="88.6" y="389.1" font-size="8.5" text-anchor="end" font-weight="normal" fill="#1c1c1c" stroke="#1c1c1c" stroke-width="0.22" >Neutrophils</text>
<rect x="93.9" y="394.90" width="15.82" height="8.6" fill="#b0002e" stroke="#222" stroke-width="0.6"/>
<line x1="109.71555555555555" y1="399.2" x2="113.68222222222222" y2="399.2" stroke="#111" stroke-width="1.1" />
<line x1="113.68222222222222" y1="396.7" x2="113.68222222222222" y2="401.7" stroke="#111" stroke-width="1.2" />
<line x1="90.5" y1="399.2" x2="93.9" y2="399.2" stroke="#111" stroke-width="1.3" />
<text x="88.6" y="402.2" font-size="8.5" text-anchor="end" font-weight="normal" fill="#1c1c1c" stroke="#1c1c1c" stroke-width="0.22" >CD14<tspan font-size="6" dy="-3">+</tspan><tspan dy="3"> Monocytes</tspan></text>
<rect x="93.9" y="408.40" width="9.20" height="8.6" fill="#3a7058" stroke="#222" stroke-width="0.6"/>
<line x1="103.10444444444445" y1="412.7" x2="107.86444444444444" y2="412.7" stroke="#111" stroke-width="1.1" />
<line x1="107.86444444444444" y1="410.2" x2="107.86444444444444" y2="415.2" stroke="#111" stroke-width="1.2" />
<line x1="90.5" y1="412.7" x2="93.9" y2="412.7" stroke="#111" stroke-width="1.3" />
<circle cx="111.86444444444444" cy="412.70" r="1.3" fill="#111"/>
<text x="88.6" y="415.7" font-size="8.5" text-anchor="end" font-weight="normal" fill="#1c1c1c" stroke="#1c1c1c" stroke-width="0.22" >PDCs</text>
<rect x="93.9" y="422.00" width="20.84" height="8.6" fill="#e4961e" stroke="#222" stroke-width="0.6"/>
<line x1="114.74000000000001" y1="426.3" x2="120.82222222222222" y2="426.3" stroke="#111" stroke-width="1.1" />
<line x1="120.82222222222222" y1="423.8" x2="120.82222222222222" y2="428.8" stroke="#111" stroke-width="1.2" />
<line x1="90.5" y1="426.3" x2="93.9" y2="426.3" stroke="#111" stroke-width="1.3" />
<circle cx="124.82222222222222" cy="426.30" r="1.3" fill="#111"/>
<text x="88.6" y="429.3" font-size="8.5" text-anchor="end" font-weight="normal" fill="#1c1c1c" stroke="#1c1c1c" stroke-width="0.22" >CD16<tspan font-size="6" dy="-3">+</tspan><tspan dy="3"> Monocytes</tspan></text>
<rect x="93.9" y="435.40" width="83.25" height="8.6" fill="#2c4f88" stroke="#222" stroke-width="0.6"/>
<line x1="177.1488888888889" y1="439.7" x2="185.0822222222222" y2="439.7" stroke="#111" stroke-width="1.1" />
<line x1="185.0822222222222" y1="437.2" x2="185.0822222222222" y2="442.2" stroke="#111" stroke-width="1.2" />
<line x1="90.5" y1="439.7" x2="93.9" y2="439.7" stroke="#111" stroke-width="1.3" />
<circle cx="189.0822222222222" cy="437.90" r="1.3" fill="#111"/>
<circle cx="189.0822222222222" cy="441.50" r="1.3" fill="#111"/>
<text x="88.6" y="442.7" font-size="8.5" text-anchor="end" font-weight="normal" fill="#1c1c1c" stroke="#1c1c1c" stroke-width="0.22" >BDCA-1<tspan font-size="6" dy="-3">+</tspan><tspan dy="3"> MDCs</tspan></text>
<line x1="93.9" y1="380.4" x2="93.9" y2="446.79999999999995" stroke="#111" stroke-width="1.8" />
<line x1="93.0" y1="445.9" x2="193.2" y2="445.9" stroke="#111" stroke-width="1.8" />
<line x1="95.7" y1="445.9" x2="95.7" y2="448.9" stroke="#111" stroke-width="1.3" />
<text x="95.7" y="460.0" font-size="8.5" text-anchor="middle" font-weight="normal" fill="#1c1c1c" stroke="#1c1c1c" stroke-width="0.22" >0</text>
<line x1="119.5" y1="445.9" x2="119.5" y2="448.9" stroke="#111" stroke-width="1.3" />
<text x="119.5" y="460.0" font-size="8.5" text-anchor="middle" font-weight="normal" fill="#1c1c1c" stroke="#1c1c1c" stroke-width="0.22" >10</text>
<line x1="143.3" y1="445.9" x2="143.3" y2="448.9" stroke="#111" stroke-width="1.3" />
<text x="143.3" y="460.0" font-size="8.5" text-anchor="middle" font-weight="normal" fill="#1c1c1c" stroke="#1c1c1c" stroke-width="0.22" >19</text>
<line x1="167.1" y1="445.9" x2="167.1" y2="448.9" stroke="#111" stroke-width="1.3" />
<text x="167.1" y="460.0" font-size="8.5" text-anchor="middle" font-weight="normal" fill="#1c1c1c" stroke="#1c1c1c" stroke-width="0.22" >28</text>
<line x1="190.9" y1="445.9" x2="190.9" y2="448.9" stroke="#111" stroke-width="1.3" />
<text x="190.9" y="460.0" font-size="8.5" text-anchor="middle" font-weight="normal" fill="#1c1c1c" stroke="#1c1c1c" stroke-width="0.22" >37</text>
<text x="256" y="375" font-size="10" text-anchor="middle" font-weight="normal" fill="#1c1c1c" stroke="#1c1c1c" stroke-width="0.22" >CD80</text>
<rect x="205.6" y="381.80" width="13.45" height="8.6" fill="#5b2a7a" stroke="#222" stroke-width="0.6"/>
<line x1="219.046" y1="386.1" x2="221.785" y2="386.1" stroke="#111" stroke-width="1.1" />
<line x1="221.785" y1="383.6" x2="221.785" y2="388.6" stroke="#111" stroke-width="1.2" />
<line x1="202.2" y1="386.1" x2="205.6" y2="386.1" stroke="#111" stroke-width="1.3" />
<rect x="205.6" y="394.90" width="34.86" height="8.6" fill="#b0002e" stroke="#222" stroke-width="0.6"/>
<line x1="240.45999999999998" y1="399.2" x2="247.93" y2="399.2" stroke="#111" stroke-width="1.1" />
<line x1="247.93" y1="396.7" x2="247.93" y2="401.7" stroke="#111" stroke-width="1.2" />
<line x1="202.2" y1="399.2" x2="205.6" y2="399.2" stroke="#111" stroke-width="1.3" />
<rect x="205.6" y="408.40" width="16.19" height="8.6" fill="#3a7058" stroke="#222" stroke-width="0.6"/>
<line x1="221.785" y1="412.7" x2="223.6525" y2="412.7" stroke="#111" stroke-width="1.1" />
<line x1="223.6525" y1="410.2" x2="223.6525" y2="415.2" stroke="#111" stroke-width="1.2" />
<line x1="202.2" y1="412.7" x2="205.6" y2="412.7" stroke="#111" stroke-width="1.3" />
<rect x="205.6" y="422.00" width="19.92" height="8.6" fill="#e4961e" stroke="#222" stroke-width="0.6"/>
<line x1="225.51999999999998" y1="426.3" x2="228.01" y2="426.3" stroke="#111" stroke-width="1.1" />
<line x1="228.01" y1="423.8" x2="228.01" y2="428.8" stroke="#111" stroke-width="1.2" />
<line x1="202.2" y1="426.3" x2="205.6" y2="426.3" stroke="#111" stroke-width="1.3" />
<rect x="205.6" y="435.40" width="77.19" height="8.6" fill="#2c4f88" stroke="#222" stroke-width="0.6"/>
<line x1="282.78999999999996" y1="439.7" x2="298.975" y2="439.7" stroke="#111" stroke-width="1.1" />
<line x1="298.975" y1="437.2" x2="298.975" y2="442.2" stroke="#111" stroke-width="1.2" />
<line x1="202.2" y1="439.7" x2="205.6" y2="439.7" stroke="#111" stroke-width="1.3" />
<circle cx="302.975" cy="436.10" r="1.3" fill="#111"/>
<circle cx="302.975" cy="439.70" r="1.3" fill="#111"/>
<circle cx="302.975" cy="443.30" r="1.3" fill="#111"/>
<line x1="205.6" y1="381" x2="205.6" y2="447.2" stroke="#111" stroke-width="1.8" />
<line x1="204.7" y1="446.3" x2="308.6" y2="446.3" stroke="#111" stroke-width="1.8" />
<line x1="205.6" y1="446.3" x2="205.6" y2="449.3" stroke="#111" stroke-width="1.3" />
<text x="205.6" y="460.40000000000003" font-size="8.5" text-anchor="middle" font-weight="normal" fill="#1c1c1c" stroke="#1c1c1c" stroke-width="0.22" >0</text>
<line x1="230.5" y1="446.3" x2="230.5" y2="449.3" stroke="#111" stroke-width="1.3" />
<text x="230.5" y="460.40000000000003" font-size="8.5" text-anchor="middle" font-weight="normal" fill="#1c1c1c" stroke="#1c1c1c" stroke-width="0.22" >2</text>
<line x1="255.39999999999998" y1="446.3" x2="255.39999999999998" y2="449.3" stroke="#111" stroke-width="1.3" />
<text x="255.39999999999998" y="460.40000000000003" font-size="8.5" text-anchor="middle" font-weight="normal" fill="#1c1c1c" stroke="#1c1c1c" stroke-width="0.22" >4</text>
<line x1="280.29999999999995" y1="446.3" x2="280.29999999999995" y2="449.3" stroke="#111" stroke-width="1.3" />
<text x="280.29999999999995" y="460.40000000000003" font-size="8.5" text-anchor="middle" font-weight="normal" fill="#1c1c1c" stroke="#1c1c1c" stroke-width="0.22" >6</text>
<line x1="305.2" y1="446.3" x2="305.2" y2="449.3" stroke="#111" stroke-width="1.3" />
<text x="305.2" y="460.40000000000003" font-size="8.5" text-anchor="middle" font-weight="normal" fill="#1c1c1c" stroke="#1c1c1c" stroke-width="0.22" >8</text>
<text x="143.5" y="477.5" font-size="10" text-anchor="middle" font-weight="normal" fill="#1c1c1c" stroke="#1c1c1c" stroke-width="0.22" >CD83</text>
<rect x="93.9" y="482.90" width="28.61" height="8.6" fill="#5b2a7a" stroke="#222" stroke-width="0.6"/>
<line x1="122.515" y1="487.2" x2="128.335" y2="487.2" stroke="#111" stroke-width="1.1" />
<line x1="128.335" y1="484.7" x2="128.335" y2="489.7" stroke="#111" stroke-width="1.2" />
<line x1="90.5" y1="487.2" x2="93.9" y2="487.2" stroke="#111" stroke-width="1.3" />
<circle cx="132.335" cy="485.40" r="1.3" fill="#111"/>
<circle cx="132.335" cy="489.00" r="1.3" fill="#111"/>
<text x="88.6" y="490.2" font-size="8.5" text-anchor="end" font-weight="normal" fill="#1c1c1c" stroke="#1c1c1c" stroke-width="0.22" >Neutrophils</text>
<rect x="93.9" y="496.30" width="31.53" height="8.6" fill="#b0002e" stroke="#222" stroke-width="0.6"/>
<line x1="125.42500000000001" y1="500.6" x2="133.185" y2="500.6" stroke="#111" stroke-width="1.1" />
<line x1="133.185" y1="498.1" x2="133.185" y2="503.1" stroke="#111" stroke-width="1.2" />
<line x1="90.5" y1="500.6" x2="93.9" y2="500.6" stroke="#111" stroke-width="1.3" />
<circle cx="137.185" cy="500.60" r="1.3" fill="#111"/>
<text x="88.6" y="503.6" font-size="8.5" text-anchor="end" font-weight="normal" fill="#1c1c1c" stroke="#1c1c1c" stroke-width="0.22" >CD14<tspan font-size="6" dy="-3">+</tspan><tspan dy="3"> Monocytes</tspan></text>
<rect x="93.9" y="509.50" width="15.03" height="8.6" fill="#3a7058" stroke="#222" stroke-width="0.6"/>
<line x1="108.935" y1="513.8" x2="114.27000000000001" y2="513.8" stroke="#111" stroke-width="1.1" />
<line x1="114.27000000000001" y1="511.29999999999995" x2="114.27000000000001" y2="516.3" stroke="#111" stroke-width="1.2" />
<line x1="90.5" y1="513.8" x2="93.9" y2="513.8" stroke="#111" stroke-width="1.3" />
<circle cx="118.27000000000001" cy="513.80" r="1.3" fill="#111"/>
<text x="88.6" y="516.8" font-size="8.5" text-anchor="end" font-weight="normal" fill="#1c1c1c" stroke="#1c1c1c" stroke-width="0.22" >PDCs</text>
<rect x="93.9" y="522.80" width="64.50" height="8.6" fill="#e4961e" stroke="#222" stroke-width="0.6"/>
<line x1="158.405" y1="527.1" x2="187.99" y2="527.1" stroke="#111" stroke-width="1.1" />
<line x1="187.99" y1="524.6" x2="187.99" y2="529.6" stroke="#111" stroke-width="1.2" />
<line x1="90.5" y1="527.1" x2="93.9" y2="527.1" stroke="#111" stroke-width="1.3" />
<circle cx="191.99" cy="527.10" r="1.3" fill="#111"/>
<text x="88.6" y="530.1" font-size="8.5" text-anchor="end" font-weight="normal" fill="#1c1c1c" stroke="#1c1c1c" stroke-width="0.22" >CD16<tspan font-size="6" dy="-3">+</tspan><tspan dy="3"> Monocytes</tspan></text>
<rect x="93.9" y="535.70" width="7.28" height="8.6" fill="#2c4f88" stroke="#222" stroke-width="0.6"/>
<line x1="101.17500000000001" y1="540.0" x2="102.63000000000001" y2="540.0" stroke="#111" stroke-width="1.1" />
<line x1="102.63000000000001" y1="537.5" x2="102.63000000000001" y2="542.5" stroke="#111" stroke-width="1.2" />
<line x1="90.5" y1="540.0" x2="93.9" y2="540.0" stroke="#111" stroke-width="1.3" />
<text x="88.6" y="543.0" font-size="8.5" text-anchor="end" font-weight="normal" fill="#1c1c1c" stroke="#1c1c1c" stroke-width="0.22" >BDCA-1<tspan font-size="6" dy="-3">+</tspan><tspan dy="3"> MDCs</tspan></text>
<line x1="93.9" y1="482.3" x2="93.9" y2="547.4" stroke="#111" stroke-width="1.8" />
<line x1="93.0" y1="546.5" x2="193.2" y2="546.5" stroke="#111" stroke-width="1.8" />
<line x1="93.9" y1="546.5" x2="93.9" y2="549.5" stroke="#111" stroke-width="1.3" />
<text x="93.9" y="559.4" font-size="8.5" text-anchor="middle" font-weight="normal" fill="#1c1c1c" stroke="#1c1c1c" stroke-width="0.22" >0</text>
<line x1="118.15" y1="546.5" x2="118.15" y2="549.5" stroke="#111" stroke-width="1.3" />
<text x="118.15" y="559.4" font-size="8.5" text-anchor="middle" font-weight="normal" fill="#1c1c1c" stroke="#1c1c1c" stroke-width="0.22" >5</text>
<line x1="142.4" y1="546.5" x2="142.4" y2="549.5" stroke="#111" stroke-width="1.3" />
<text x="142.4" y="559.4" font-size="8.5" text-anchor="middle" font-weight="normal" fill="#1c1c1c" stroke="#1c1c1c" stroke-width="0.22" >10</text>
<line x1="166.65" y1="546.5" x2="166.65" y2="549.5" stroke="#111" stroke-width="1.3" />
<text x="166.65" y="559.4" font-size="8.5" text-anchor="middle" font-weight="normal" fill="#1c1c1c" stroke="#1c1c1c" stroke-width="0.22" >15</text>
<line x1="190.9" y1="546.5" x2="190.9" y2="549.5" stroke="#111" stroke-width="1.3" />
<text x="190.9" y="559.4" font-size="8.5" text-anchor="middle" font-weight="normal" fill="#1c1c1c" stroke="#1c1c1c" stroke-width="0.22" >20</text>
<text x="256.5" y="475" font-size="10" text-anchor="middle" font-weight="normal" fill="#1c1c1c" stroke="#1c1c1c" stroke-width="0.22" >CD86</text>
<rect x="205.6" y="482.90" width="16.81" height="8.6" fill="#5b2a7a" stroke="#222" stroke-width="0.6"/>
<line x1="222.4075" y1="487.2" x2="224.27499999999998" y2="487.2" stroke="#111" stroke-width="1.1" />
<line x1="224.27499999999998" y1="484.7" x2="224.27499999999998" y2="489.7" stroke="#111" stroke-width="1.2" />
<line x1="202.2" y1="487.2" x2="205.6" y2="487.2" stroke="#111" stroke-width="1.3" />
<rect x="205.6" y="496.30" width="10.58" height="8.6" fill="#b0002e" stroke="#222" stroke-width="0.6"/>
<line x1="216.1825" y1="500.6" x2="218.04999999999998" y2="500.6" stroke="#111" stroke-width="1.1" />
<line x1="218.04999999999998" y1="498.1" x2="218.04999999999998" y2="503.1" stroke="#111" stroke-width="1.2" />
<line x1="202.2" y1="500.6" x2="205.6" y2="500.6" stroke="#111" stroke-width="1.3" />
<rect x="205.6" y="509.50" width="59.76" height="8.6" fill="#3a7058" stroke="#222" stroke-width="0.6"/>
<line x1="265.36" y1="513.8" x2="277.81" y2="513.8" stroke="#111" stroke-width="1.1" />
<line x1="277.81" y1="511.29999999999995" x2="277.81" y2="516.3" stroke="#111" stroke-width="1.2" />
<line x1="202.2" y1="513.8" x2="205.6" y2="513.8" stroke="#111" stroke-width="1.3" />
<circle cx="281.81" cy="512.00" r="1.3" fill="#111"/>
<circle cx="281.81" cy="515.60" r="1.3" fill="#111"/>
<rect x="205.6" y="522.80" width="9.96" height="8.6" fill="#e4961e" stroke="#222" stroke-width="0.6"/>
<line x1="215.56" y1="527.1" x2="218.04999999999998" y2="527.1" stroke="#111" stroke-width="1.1" />
<line x1="218.04999999999998" y1="524.6" x2="218.04999999999998" y2="529.6" stroke="#111" stroke-width="1.2" />
<line x1="202.2" y1="527.1" x2="205.6" y2="527.1" stroke="#111" stroke-width="1.3" />
<rect x="205.6" y="535.70" width="57.27" height="8.6" fill="#2c4f88" stroke="#222" stroke-width="0.6"/>
<line x1="262.87" y1="540.0" x2="270.34" y2="540.0" stroke="#111" stroke-width="1.1" />
<line x1="270.34" y1="537.5" x2="270.34" y2="542.5" stroke="#111" stroke-width="1.2" />
<line x1="202.2" y1="540.0" x2="205.6" y2="540.0" stroke="#111" stroke-width="1.3" />
<circle cx="274.34" cy="538.20" r="1.3" fill="#111"/>
<circle cx="274.34" cy="541.80" r="1.3" fill="#111"/>
<line x1="205.6" y1="480.2" x2="205.6" y2="547.1999999999999" stroke="#111" stroke-width="1.8" />
<line x1="204.7" y1="546.3" x2="308.6" y2="546.3" stroke="#111" stroke-width="1.8" />
<line x1="205.6" y1="546.3" x2="205.6" y2="549.3" stroke="#111" stroke-width="1.3" />
<text x="205.6" y="559.1999999999999" font-size="8.5" text-anchor="middle" font-weight="normal" fill="#1c1c1c" stroke="#1c1c1c" stroke-width="0.22" >0</text>
<line x1="230.5" y1="546.3" x2="230.5" y2="549.3" stroke="#111" stroke-width="1.3" />
<text x="230.5" y="559.1999999999999" font-size="8.5" text-anchor="middle" font-weight="normal" fill="#1c1c1c" stroke="#1c1c1c" stroke-width="0.22" >2</text>
<line x1="255.39999999999998" y1="546.3" x2="255.39999999999998" y2="549.3" stroke="#111" stroke-width="1.3" />
<text x="255.39999999999998" y="559.1999999999999" font-size="8.5" text-anchor="middle" font-weight="normal" fill="#1c1c1c" stroke="#1c1c1c" stroke-width="0.22" >4</text>
<line x1="280.29999999999995" y1="546.3" x2="280.29999999999995" y2="549.3" stroke="#111" stroke-width="1.3" />
<text x="280.29999999999995" y="559.1999999999999" font-size="8.5" text-anchor="middle" font-weight="normal" fill="#1c1c1c" stroke="#1c1c1c" stroke-width="0.22" >6</text>
<line x1="305.2" y1="546.3" x2="305.2" y2="549.3" stroke="#111" stroke-width="1.3" />
<text x="305.2" y="559.1999999999999" font-size="8.5" text-anchor="middle" font-weight="normal" fill="#1c1c1c" stroke="#1c1c1c" stroke-width="0.22" >8</text>
<line x1="91.5" y1="564.3" x2="300" y2="564.3" stroke="#111" stroke-width="1.2" />
<path d="M305,564.3 L298,561.2 L298,567.4 Z" fill="#111"/>
<text x="89.7" y="577.8" font-size="10" text-anchor="start" font-weight="normal" fill="#1c1c1c" stroke="#1c1c1c" stroke-width="0.22" textLength="214" lengthAdjust="spacingAndGlyphs">MFI of TLR7/8L-treated cells / MFI of non-treated cells</text>
<text x="324.1" y="362.2" font-size="11.8" text-anchor="start" font-weight="bold" fill="#000"  >H</text>
<text x="413.4" y="361.9" font-size="11.8" text-anchor="start" font-weight="bold" fill="#000"  >I</text>
<path d="M336.8,432.1 L342.0,430.0 L348.0,424.0 L352.0,414.0 L356.0,402.0 L360.0,390.0 L363.5,380.0 L366.5,373.5 L368.5,375.0 L370.2,380.0 L371.7,387.0 L373.2,402.0 L374.8,416.0 L376.5,423.0 L378.6,427.3 L383.2,431.0 L388.0,432.1 L413.0,432.1 Z" fill="#a9aac6" stroke="none" stroke-width="1" />
<path d="M336.8,426.5 L343.8,425.4 L348.0,420.9 L352.2,411.2 L356.4,400.0 L360.6,388.8 L364.1,379.0 L366.9,372.7 L367.6,371.3 L369.0,374.1 L370.6,380.4 L372.5,393.0 L374.6,405.6 L376.7,416.7 L378.8,423.0 L382.3,425.8 L387.1,426.5 L413.0,426.5 Z" fill="#c42a3c" stroke="#7a1a28" stroke-width="0.8" />
<path d="M336.8,432.1 L342.0,430.0 L348.0,424.0 L352.0,414.0 L356.0,402.0 L360.0,390.0 L363.5,380.0 L366.5,373.5 L368.5,375.0 L370.2,380.0 L371.7,387.0 L373.2,402.0 L374.8,416.0 L376.5,423.0 L378.6,427.3 L383.2,431.0 L388.0,432.1 L413.0,432.1 Z" fill="#a9aac6" stroke="#444" stroke-width="0.8" stroke-dasharray="2.5,1.5" stroke-opacity="0.7" fill-opacity="0.28"/>
<path d="M336.8,437.7 L342.0,436.0 L348.0,425.0 L354.0,408.0 L358.0,395.0 L361.3,383.9 L363.0,390.0 L364.8,400.0 L367.6,421.0 L369.7,432.1 L371.8,437.0 L376.0,437.7 L413.0,437.7 Z" fill="#82c05a" stroke="#5e9a3a" stroke-width="0.7" />
<path d="M336.8,444.6 L340.5,438.0 L344.0,430.0 L347.0,420.0 L350.0,408.0 L353.0,397.0 L356.0,391.0 L358.5,389.3 L360.0,391.0 L362.0,401.4 L364.1,415.3 L366.2,429.3 L368.3,440.5 L369.7,444.6 L336.8,444.6 Z" fill="#6a4b8e" stroke="#3a2050" stroke-width="0.7" />
<rect x="336.3" y="368" width="77" height="77" fill="none" stroke="#000" stroke-width="1.5"/>
<path d="M420.8,432.8 L421.0,424.0 L423.6,410.0 L426.4,396.0 L429.2,384.0 L432.0,377.0 L434.0,375.0 L436.2,377.5 L438.3,384.0 L440.4,395.0 L442.5,405.0 L443.2,410.0 L446.0,413.5 L448.8,416.5 L453.0,419.5 L455.8,421.5 L458.6,424.5 L461.4,429.3 L465.6,432.1 L470.0,432.8 L497.0,432.8 Z" fill="#a9aac6" stroke="none" stroke-width="1" />
<path d="M420.8,426.8 L421.5,418.0 L424.2,405.0 L427.0,392.5 L429.8,381.8 L432.3,375.0 L434.1,372.7 L436.0,375.5 L438.3,381.8 L440.4,393.0 L442.5,404.2 L444.6,412.6 L446.7,421.0 L448.8,425.8 L454.4,426.8 L497.0,426.8 Z" fill="#c42a3c" stroke="#7a1a28" stroke-width="0.8" />
<path d="M420.8,432.8 L421.0,424.0 L423.6,410.0 L426.4,396.0 L429.2,384.0 L432.0,377.0 L434.0,375.0 L436.2,377.5 L438.3,384.0 L440.4,395.0 L442.5,405.0 L443.2,410.0 L446.0,413.5 L448.8,416.5 L453.0,419.5 L455.8,421.5 L458.6,424.5 L461.4,429.3 L465.6,432.1 L470.0,432.8 L497.0,432.8 Z" fill="#a9aac6" stroke="#444" stroke-width="0.8" stroke-dasharray="2.5,1.5" stroke-opacity="0.7" fill-opacity="0.28"/>
<path d="M420.8,438.4 L420.8,428.0 L424.0,412.0 L427.5,396.0 L430.8,386.5 L434.5,383.2 L437.6,388.8 L440.4,402.8 L442.5,418.1 L444.6,428.0 L448.8,433.5 L455.8,436.3 L462.8,437.7 L470.0,438.4 L497.0,438.4 Z" fill="#82c05a" stroke="#5e9a3a" stroke-width="0.7" />
<path d="M420.8,444.6 L423.6,432.1 L426.4,418.1 L429.2,401.4 L431.3,393.0 L432.7,390.2 L434.8,393.0 L436.9,404.2 L439.0,418.1 L441.1,430.7 L443.2,440.5 L444.6,443.3 L420.8,444.6 Z" fill="#6a4b8e" stroke="#3a2050" stroke-width="0.7" />
<rect x="420.2" y="368" width="77.1" height="77" fill="none" stroke="#000" stroke-width="1.5"/>
<line x1="339" y1="446.3" x2="413" y2="446.3" stroke="#111" stroke-width="2.0" stroke-dasharray="1.1,0.9"/>
<line x1="423" y1="446.3" x2="497" y2="446.3" stroke="#111" stroke-width="2.0" stroke-dasharray="1.1,0.9"/>
<text x="349.6" y="458.4" font-size="8.6" text-anchor="middle" font-weight="normal" fill="#1c1c1c" stroke="#1c1c1c" stroke-width="0.22" >0</text>
<text x="0" y="0" transform="translate(369.2,458.4) scale(0.88,1)" font-size="8.6" text-anchor="middle" font-weight="normal" fill="#1c1c1c" stroke="#1c1c1c" stroke-width="0.22" >10</text>
<text x="0" y="0" transform="translate(375.7,454.79999999999995) scale(0.9,1)" font-size="6.02" text-anchor="middle" font-weight="normal" fill="#1c1c1c"  >3</text>
<text x="0" y="0" transform="translate(388.5,458.4) scale(0.88,1)" font-size="8.6" text-anchor="middle" font-weight="normal" fill="#1c1c1c" stroke="#1c1c1c" stroke-width="0.22" >10</text>
<text x="0" y="0" transform="translate(395.0,454.79999999999995) scale(0.9,1)" font-size="6.02" text-anchor="middle" font-weight="normal" fill="#1c1c1c"  >4</text>
<text x="0" y="0" transform="translate(407,458.4) scale(0.88,1)" font-size="8.6" text-anchor="middle" font-weight="normal" fill="#1c1c1c" stroke="#1c1c1c" stroke-width="0.22" >10</text>
<text x="0" y="0" transform="translate(413.5,454.79999999999995) scale(0.9,1)" font-size="6.02" text-anchor="middle" font-weight="normal" fill="#1c1c1c"  >5</text>
<text x="429" y="458.4" font-size="8.6" text-anchor="middle" font-weight="normal" fill="#1c1c1c" stroke="#1c1c1c" stroke-width="0.22" >0</text>
<text x="0" y="0" transform="translate(451.5,458.4) scale(0.88,1)" font-size="8.6" text-anchor="middle" font-weight="normal" fill="#1c1c1c" stroke="#1c1c1c" stroke-width="0.22" >10</text>
<text x="0" y="0" transform="translate(458.0,454.79999999999995) scale(0.9,1)" font-size="6.02" text-anchor="middle" font-weight="normal" fill="#1c1c1c"  >3</text>
<text x="0" y="0" transform="translate(470.8,458.4) scale(0.88,1)" font-size="8.6" text-anchor="middle" font-weight="normal" fill="#1c1c1c" stroke="#1c1c1c" stroke-width="0.22" >10</text>
<text x="0" y="0" transform="translate(477.3,454.79999999999995) scale(0.9,1)" font-size="6.02" text-anchor="middle" font-weight="normal" fill="#1c1c1c"  >4</text>
<text x="0" y="0" transform="translate(489.9,458.4) scale(0.88,1)" font-size="8.6" text-anchor="middle" font-weight="normal" fill="#1c1c1c" stroke="#1c1c1c" stroke-width="0.22" >10</text>
<text x="0" y="0" transform="translate(496.4,454.79999999999995) scale(0.9,1)" font-size="6.02" text-anchor="middle" font-weight="normal" fill="#1c1c1c"  >5</text>
<text x="0" y="0" transform="translate(374.6,470.8) scale(0.9,1)" font-size="8.8" text-anchor="middle" font-weight="normal" fill="#1c1c1c" stroke="#1c1c1c" stroke-width="0.22" >MHC II (HLA-DR)</text>
<text x="0" y="0" transform="translate(458.5,470.8) scale(0.84,1)" font-size="8.8" text-anchor="middle" font-weight="normal" fill="#1c1c1c" stroke="#1c1c1c" stroke-width="0.22" >CD80</text>
<rect x="330.8" y="481.8" width="9.2" height="4.8" fill="#c42a3c" stroke="#555" stroke-width="0.4"/>
<text x="0" y="0" transform="translate(342.5,487.4) scale(0.875,1)" font-size="9.0" text-anchor="start" font-weight="normal" fill="#1c1c1c" stroke="#1c1c1c" stroke-width="0.22" >Neutrophils + CD4<tspan font-size="6" dy="-3">+</tspan><tspan dy="3">T cells + pp65</tspan></text>
<rect x="330.8" y="493.3" width="9.2" height="4.8" fill="#a9aac6" stroke="#555" stroke-width="0.4"/>
<text x="0" y="0" transform="translate(342.5,498.9) scale(0.875,1)" font-size="9.0" text-anchor="start" font-weight="normal" fill="#1c1c1c" stroke="#1c1c1c" stroke-width="0.22" >Neutrophils + CD4<tspan font-size="6" dy="-3">+</tspan><tspan dy="3">T cells + pp65 + TLR7/8-L</tspan></text>
<rect x="330.8" y="504.8" width="9.2" height="4.8" fill="#82c05a" stroke="#555" stroke-width="0.4"/>
<text x="0" y="0" transform="translate(342.5,510.4) scale(0.875,1)" font-size="9.0" text-anchor="start" font-weight="normal" fill="#1c1c1c" stroke="#1c1c1c" stroke-width="0.22" >Neutrophils + TLR7/8-L</text>
<rect x="330.8" y="516.3" width="9.2" height="4.8" fill="#6a4b8e" stroke="#555" stroke-width="0.4"/>
<text x="0" y="0" transform="translate(342.5,521.9000000000001) scale(0.875,1)" font-size="9.0" text-anchor="start" font-weight="normal" fill="#1c1c1c" stroke="#1c1c1c" stroke-width="0.22" >Neutrophils</text>
</svg>
<svg width="520" height="586" viewBox="0 0 520 586">
<rect x="0" y="0" width="520" height="1.4" fill="#000"/><rect x="0" y="0" width="1.4" height="586" fill="#000"/>
<rect x="518.5" y="0" width="1.5" height="586" fill="#000"/><rect x="0" y="584.5" width="520" height="1.5" fill="#000"/>
</svg></div></body></html>
